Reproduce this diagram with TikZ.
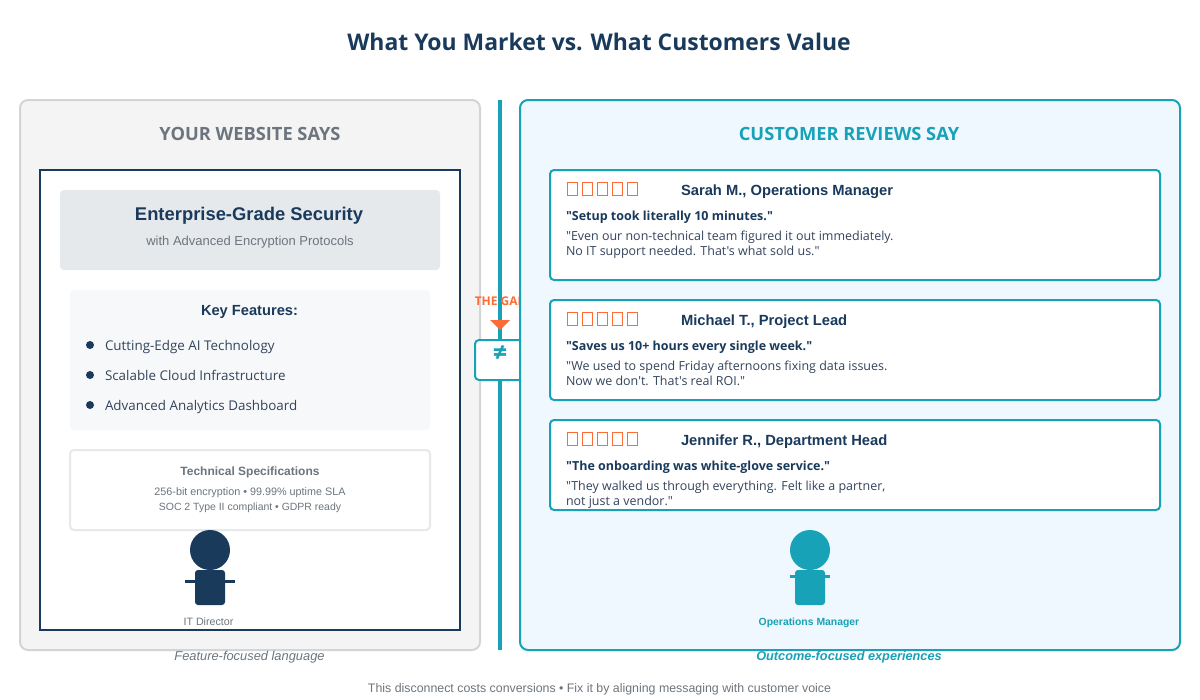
\documentclass[tikz,border=0pt]{standalone}
\usepackage{fontspec}
\setmainfont{Liberation Sans}
\newfontfamily\segoe{Open Sans}
\definecolor{navy}{HTML}{1A3A5C}
\definecolor{teal2}{HTML}{17A2B8}
\definecolor{orng}{HTML}{FF6B35}
\definecolor{graytx}{HTML}{6C757D}
\definecolor{panelgray}{HTML}{F4F4F4}
\definecolor{bordergray}{HTML}{D2D5D8}
\definecolor{lightgray2}{HTML}{E6E9EC}
\definecolor{featbg}{HTML}{F7F8FA}
\definecolor{bluebg}{HTML}{F0F8FF}
\definecolor{bodytx}{HTML}{33445C}
\tikzset{
  x=0.75pt,y=-0.75pt,
  every node/.style={inner sep=0pt,outer sep=0pt},
  card/.style={draw=teal2,line width=1.5pt,fill=white,rounded corners=3pt},
  starbox/.style={draw=orng,line width=0.6pt},
  seg/.style={font=\segoe\fontsize{#1}{#1}\selectfont},
  ari/.style={font=\fontsize{#1}{#1}\selectfont},
  lft/.style={anchor=base west},
  ctr/.style={anchor=base},
}
\newcommand{\starrow}[2]{\foreach \i in {0,...,4}{\draw[starbox] (#1+15*\i,#2) rectangle ++(10.5,13);}}
\begin{document}
\begin{tikzpicture}
\useasboundingbox (0,0) rectangle (1200,700);
\fill[white] (0,0) rectangle (1200,700);
\node[ctr,seg=17.2,text=navy] (title) at (599,50) {\bfseries What You Market vs. What Customers Value};
% left panel
\draw[draw=bordergray,line width=1.5pt,fill=panelgray,rounded corners=6pt] (20,100) rectangle (480,650);
\node[ctr,seg=13.7,text=graytx] (lefthead) at (250,140) {\bfseries YOUR WEBSITE SAYS};
\draw[draw=navy,line width=1.5pt,fill=white] (40,170) rectangle (460,630);
\fill[lightgray2,rounded corners=3pt] (60,190) rectangle (440,270);
\node[ctr,ari=13.8,text=navy] (ent) at (249,220) {\bfseries Enterprise-Grade Security};
\node[ctr,ari=9.75,text=graytx] (entsub) at (250,245) {with Advanced Encryption Protocols};
\fill[featbg,rounded corners=3pt] (70,290) rectangle (430,430);
\node[ctr,ari=11,text=navy] (kf) at (249.5,315) {\bfseries Key Features:};
\foreach \y/\t in {345/Cutting-Edge AI Technology,375/Scalable Cloud Infrastructure,405/Advanced Analytics Dashboard}{
  \fill[navy] (90,\y) circle[radius=4];
  \node[lft,seg=10.05,text=bodytx] at (105,\y+5) {\t};
}
\draw[draw=lightgray2,line width=1.5pt,fill=white,rounded corners=3pt] (70,450) rectangle (430,530);
\node[ctr,ari=9,text=graytx] (ts) at (250,475) {\bfseries Technical Specifications};
\node[ctr,ari=8.1,text=graytx] (ts1) at (250,495) {256-bit encryption • 99.99\% uptime SLA};
\node[ctr,ari=7.85,text=graytx] (ts2) at (250,510) {SOC 2 Type II compliant • GDPR ready};
% left person
\fill[navy] (210,550) circle[radius=20];
\draw[navy,line width=2.25pt] (185,581) -- (235,581);
\fill[navy,rounded corners=2.25pt] (195,570) rectangle (225,605);
\node[ctr,ari=8,text=graytx] (itd) at (208.5,625) {IT Director};
\node[ctr,ari=9.65,text=graytx] (ff) at (249.5,660) {\itshape Feature-focused language};
% divider
\draw[teal2,line width=3pt] (500,100) -- (500,650);
\node[ctr,seg=9,text=orng] (gap) at (500,305) {\bfseries THE GAP};
\fill[orng] (490,320) -- (510,320) -- (500,330) -- cycle;
\draw[draw=teal2,line width=1.5pt,fill=white,rounded corners=3pt] (475,340) rectangle (525,380);
\node[ctr,font=\segoe\fontsize{19}{19}\selectfont\bfseries,text=teal2] (ne) at (500,361) {≠};
% right panel
\draw[draw=teal2,line width=1.5pt,fill=bluebg,rounded corners=6pt] (520,100) rectangle (1180,650);
\node[ctr,seg=13.7,text=teal2] (righthead) at (849,140) {\bfseries CUSTOMER REVIEWS SAY};
% cards
\draw[card] (550,170) rectangle (1160,280);
\starrow{567}{182}
\node[lft,ari=11.05,text=navy] (n1) at (681,195) {\bfseries Sarah M., Operations Manager};
\node[lft,seg=9.38,text=navy] (q1) at (566,220) {\bfseries "Setup took literally 10 minutes."};
\node[lft,seg=9.35,text=bodytx] (q1a) at (566,240) {"Even our non-technical team figured it out immediately.};
\node[lft,seg=9.35,text=bodytx] (q1b) at (566,255) {No IT support needed. That's what sold us."};
\draw[card] (550,300) rectangle (1160,400);
\starrow{567}{312}
\node[lft,ari=11.05,text=navy] (n2) at (681,325) {\bfseries Michael T., Project Lead};
\node[lft,seg=9.38,text=navy] (q2) at (566,350) {\bfseries "Saves us 10+ hours every single week."};
\node[lft,seg=9.35,text=bodytx] (q2a) at (566,370) {"We used to spend Friday afternoons fixing data issues.};
\node[lft,seg=9.35,text=bodytx] (q2b) at (566,385) {Now we don't. That's real ROI."};
\draw[card] (550,420) rectangle (1160,510);
\starrow{567}{432}
\node[lft,ari=11.05,text=navy] (n3) at (681,445) {\bfseries Jennifer R., Department Head};
\node[lft,seg=9.38,text=navy] (q3) at (566,470) {\bfseries "The onboarding was white-glove service."};
\node[lft,seg=9.35,text=bodytx] (q3a) at (566,490) {"They walked us through everything. Felt like a partner,};
\node[lft,seg=9.35,text=bodytx] (q3b) at (566,505) {not just a vendor."};
% right person
\fill[teal2] (810,550) circle[radius=20];
\draw[teal2,line width=2.25pt] (790,576) -- (830,576);
\fill[teal2,rounded corners=2.25pt] (795,570) rectangle (825,605);
\node[ctr,ari=7.8,text=teal2] (om) at (809,625) {\bfseries Operations Manager};
\node[ctr,ari=9.55,text=teal2] (oc) at (849,660) {\bfseries\itshape Outcome-focused experiences};
\node[ctr,ari=9.28,text=graytx] (foot) at (599.5,692) {This disconnect costs conversions • Fix it by aligning messaging with customer voice};
\end{tikzpicture}
\end{document}
